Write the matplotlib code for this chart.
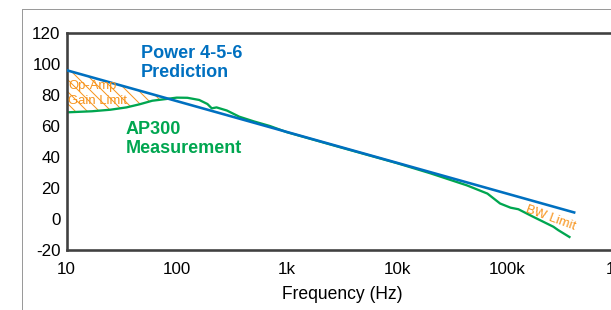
"""
Power 4-5-6 prediction vs AP300 measurement (gain vs frequency)
"""
import numpy as np
import matplotlib
matplotlib.use("Agg")
import matplotlib.pyplot as plt
from matplotlib.lines import Line2D

# prediction line (dB)
pred_freq = [10, 415000]
pred_db = [96, 4]

meas_freq = [10, 17, 25, 35, 46, 60, 80, 100, 125, 160, 190, 208, 230, 285,
             370, 500, 700, 1000, 3000, 10000, 20000, 43000, 66000, 86000,
             107000, 126000, 172000, 262000, 290000, 374000]
meas_db = [68.8, 69.5, 70.5, 72.0, 74.0, 76.3, 77.4, 78.3, 78.2, 76.8, 74.2,
           71.4, 72.0, 70.0, 66.0, 63.0, 60.0, 56.0, 46.4, 36.0, 29.5, 21.7,
           16.4, 10.0, 7.3, 6.3, 1.4, -5.0, -7.2, -12.0]

xticks = [10, 100, 1000, 10000, 100000, 1000000]
xlabels = ["10", "100", "1k", "10k", "100k", "1M"]
yticks = [-20, 0, 20, 40, 60, 80, 100, 120]

BLUE = "#0070C0"
GREEN = "#00A650"
ORANGE = "#F7941D"
SPINE = "#404040"

plt.rcParams['font.family'] = ['Liberation Sans', 'DejaVu Sans']
plt.rcParams['hatch.linewidth'] = 1.0
plt.rcParams['axes.unicode_minus'] = False

W, H = 611, 310
fig = plt.figure(figsize=(W / 72, H / 72), dpi=72)
ax = fig.add_axes([66.5 / W, (H - 250) / H, 551 / W, 217 / H])

# outer slide border
fig.add_artist(Line2D([22 / W, 22 / W], [0, 1 - 9 / H], transform=fig.transFigure,
                      color="#9A9A9A", linewidth=1))
fig.add_artist(Line2D([22 / W, 1], [1 - 9 / H, 1 - 9 / H], transform=fig.transFigure,
                      color="#9A9A9A", linewidth=1))

# hatched op-amp gain limit region between prediction and measurement
mf = np.array(meas_freq, dtype=float)
md = np.array(meas_db, dtype=float)
pred_at_meas = np.interp(np.log10(mf), np.log10(pred_freq), pred_db)
ax.fill_between(mf, md, pred_at_meas, where=(pred_at_meas > md) & (mf < 150),
                interpolate=True, facecolor="none", edgecolor=ORANGE,
                hatch="\\\\", linewidth=0, zorder=1)

ax.plot(meas_freq, meas_db, color=GREEN, linewidth=2.3, zorder=2,
        solid_capstyle="butt")
ax.plot(pred_freq, pred_db, color=BLUE, linewidth=2.6, zorder=3,
        solid_capstyle="butt")

ax.set_xscale("log")
ax.set_xlim(10, 1e6)
ax.set_ylim(-20, 120)
ax.set_xticks(xticks)
ax.set_xticklabels(xlabels)
ax.minorticks_off()
ax.set_yticks(yticks)
ax.tick_params(axis="both", length=0, labelsize=17, colors="black")
ax.tick_params(axis="x", pad=12)
ax.tick_params(axis="y", pad=6)
ax.set_xlabel("Frequency (Hz)", fontsize=17.5, labelpad=9)

for side in ["left", "bottom", "top"]:
    ax.spines[side].set_color(SPINE)
    ax.spines[side].set_linewidth(2.6)
ax.spines["right"].set_visible(False)

# annotations
ax.text(47, 112.5, "Power 4-5-6\nPrediction", color=BLUE, fontsize=18,
        fontweight="bold", ha="left", va="top", linespacing=1.2)
ax.text(34.4, 63.5, "AP300\nMeasurement", color=GREEN, fontsize=18,
        fontweight="bold", ha="left", va="top", linespacing=1.2)
ax.text(10.4, 89.5, "Op-Amp\nGain Limit", color=ORANGE, fontsize=13,
        ha="left", va="top", linespacing=1.3)
ax.text(246000, 0.6, "BW Limit", color=ORANGE, fontsize=13, rotation=-20,
        ha="center", va="center", rotation_mode="anchor")

fig.savefig("out.png", dpi=72)
